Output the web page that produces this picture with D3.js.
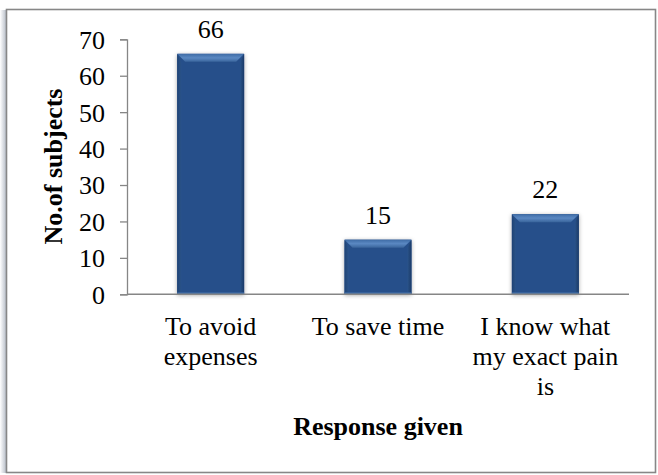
<!DOCTYPE html>
<html>
<head>
<meta charset="utf-8">
<script src="https://cdn.jsdelivr.net/npm/d3@7/dist/d3.min.js"></script>
</head>
<body style="margin:0;padding:0;background:#fff">
<svg id="chart" width="658" height="475" style="display:block"></svg>
<script>
// Responses and counts
const categories = ["To avoid expenses", "To save time", "I know what my exact pain is"];
const counts = [66, 15, 22];
const yTicks = [0, 10, 20, 30, 40, 50, 60, 70];
const yTitle = "No.of subjects";
const xTitle = "Response given";

const FONT = "'Liberation Serif', serif";
const FS = 26;
const svg = d3.select("#chart");
const plot = { left: 127, right: 629, top: 39.3, bottom: 294.3 };

// Frame with a soft shadow on its left edge
const defs = svg.append("defs");
const edge = defs.append("linearGradient").attr("id", "edgeShade")
  .attr("x1", 0).attr("x2", 1).attr("y1", 0).attr("y2", 0);
edge.append("stop").attr("offset", 0).attr("stop-color", "#ffffff");
edge.append("stop").attr("offset", 1).attr("stop-color", "#b9bfc9");
svg.append("rect").attr("x", 0).attr("y", 10).attr("width", 6).attr("height", 463)
  .attr("fill", "url(#edgeShade)");
svg.append("rect").attr("x", 6.5).attr("y", 9.5).attr("width", 649).attr("height", 463)
  .attr("fill", "#fff").attr("stroke", "#878787").attr("stroke-width", 1.6);

// Bar effects
const shadow = defs.append("filter").attr("id", "barShadow")
  .attr("x", "-30%").attr("y", "-30%").attr("width", "160%").attr("height", "160%");
shadow.append("feDropShadow").attr("dx", 0).attr("dy", 1).attr("stdDeviation", 2)
  .attr("flood-color", "#000").attr("flood-opacity", 0.35);

const topGrad = defs.append("linearGradient").attr("id", "bevelTop")
  .attr("x1", 0).attr("x2", 0).attr("y1", 0).attr("y2", 1);
topGrad.append("stop").attr("offset", 0).attr("stop-color", "#3f6ca6");
topGrad.append("stop").attr("offset", 0.5).attr("stop-color", "#5a88c2");
topGrad.append("stop").attr("offset", 1).attr("stop-color", "#3a659c");

const sideL = defs.append("linearGradient").attr("id", "bevelLeft")
  .attr("x1", 0).attr("x2", 1).attr("y1", 0).attr("y2", 0);
sideL.append("stop").attr("offset", 0).attr("stop-color", "#1e4274");
sideL.append("stop").attr("offset", 1).attr("stop-color", "#2a5389");

const sideR = defs.append("linearGradient").attr("id", "bevelRight")
  .attr("x1", 0).attr("x2", 1).attr("y1", 0).attr("y2", 0);
sideR.append("stop").attr("offset", 0).attr("stop-color", "#2a5389");
sideR.append("stop").attr("offset", 1).attr("stop-color", "#1a3a68");

// Scales
const x = d3.scaleBand().domain(categories)
  .range([plot.left, plot.right]).paddingInner(0.6).paddingOuter(0.3);
const y = d3.scaleLinear().domain([0, 70]).range([plot.bottom, plot.top]);

// Y axis
const yAxis = svg.append("g").attr("transform", `translate(${plot.left},0)`)
  .call(d3.axisLeft(y).tickValues(yTicks).tickSize(7).tickPadding(15).tickSizeOuter(7));
yAxis.attr("font-family", FONT);
yAxis.select(".domain").attr("stroke", "#868686").attr("stroke-width", 1.3);
yAxis.selectAll(".tick line").attr("stroke", "#868686").attr("stroke-width", 1.3);
yAxis.selectAll(".tick text")
  .attr("font-family", FONT).attr("font-size", FS).attr("fill", "#000").attr("dy", "0.34em");

// Bars with bevelled edges
const bw = x.bandwidth();
const bev = 8;
const rows = categories.map((c, i) => ({ c, v: counts[i] }));
const bars = svg.append("g").selectAll("g.bar").data(rows).join("g").attr("class", "bar");

bars.each(function (d) {
  const g = d3.select(this);
  const x0 = x(d.c), x1 = x0 + bw, y0 = y(d.v), y1 = y(0);
  const b = Math.min(bev, (y1 - y0) / 3);
  g.append("rect").attr("x", x0).attr("y", y0).attr("width", bw).attr("height", y1 - y0)
    .attr("fill", "#27508a").attr("filter", "url(#barShadow)");
  g.append("polygon").attr("fill", "url(#bevelTop)")
    .attr("points", [[x0, y0], [x1, y0], [x1 - b, y0 + b], [x0 + b, y0 + b]].join(" "));
  g.append("polygon").attr("fill", "url(#bevelLeft)")
    .attr("points", [[x0, y0], [x0 + b * 0.5, y0 + b], [x0 + b * 0.5, y1 - 2], [x0, y1]].join(" "));
  g.append("polygon").attr("fill", "url(#bevelRight)")
    .attr("points", [[x1, y0], [x1 - b * 0.5, y0 + b], [x1 - b * 0.5, y1 - 2], [x1, y1]].join(" "));
  g.append("rect").attr("x", x0).attr("y", y1 - 2).attr("width", bw).attr("height", 2)
    .attr("fill", "#3e6aa3");
});

// X axis baseline
svg.append("line").attr("x1", plot.left).attr("x2", plot.right)
  .attr("y1", y(0)).attr("y2", y(0)).attr("stroke", "#868686").attr("stroke-width", 1.5);

// Value labels
svg.append("g").selectAll("text").data(rows).join("text")
  .attr("x", d => x(d.c) + bw / 2)
  .attr("y", d => y(d.v) - 16)
  .attr("text-anchor", "middle")
  .attr("font-family", FONT).attr("font-size", FS)
  .text(d => d.v);

// Category labels, wrapped to the band step
const maxW = x.step() * 0.92;
const catG = svg.append("g").attr("font-family", FONT).attr("font-size", FS);
categories.forEach(c => {
  const t = catG.append("text").attr("text-anchor", "middle");
  const words = c.split(" ");
  const lines = [];
  let cur = [];
  const probe = catG.append("text");
  words.forEach(w => {
    probe.text(cur.concat(w).join(" "));
    if (cur.length && probe.node().getComputedTextLength() > maxW) {
      lines.push(cur.join(" "));
      cur = [w];
    } else cur.push(w);
  });
  lines.push(cur.join(" "));
  probe.remove();
  lines.forEach((ln, i) => {
    t.append("tspan").attr("x", x(c) + bw / 2).attr("y", 335 + i * 30).text(ln);
  });
});

// Axis titles
svg.append("text").attr("x", (plot.left + plot.right) / 2).attr("y", 435)
  .attr("text-anchor", "middle").attr("font-family", FONT).attr("font-size", FS)
  .attr("font-weight", "bold").text(xTitle);
svg.append("text").attr("transform", "translate(62,166.5) rotate(-90)")
  .attr("text-anchor", "middle").attr("font-family", FONT).attr("font-size", FS)
  .attr("font-weight", "bold").text(yTitle);
</script>
</body>
</html>
